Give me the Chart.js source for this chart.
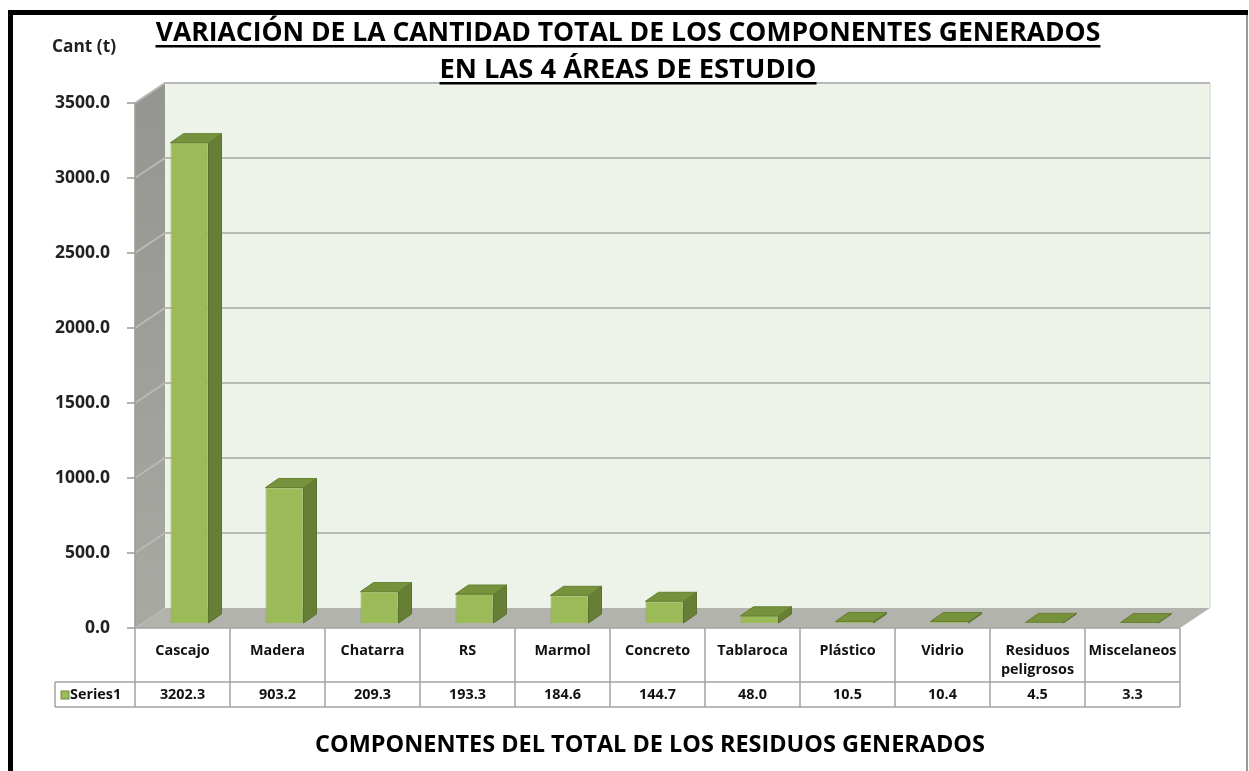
<!DOCTYPE html>
<html>
<head>
<meta charset="utf-8">
<script src="https://cdn.jsdelivr.net/npm/chart.js@4"></script>
<style>
  html, body { margin: 0; padding: 0; background: #fff; }
  #wrap { position: relative; width: 1249px; height: 771px; }
</style>
</head>
<body>
<div id="wrap"><canvas id="myChart" width="1249" height="771"></canvas></div>
<script>
// data
const categories = ['Cascajo', 'Madera', 'Chatarra', 'RS', 'Marmol', 'Concreto', 'Tablaroca',
    'Plástico', 'Vidrio', 'Residuos peligrosos', 'Miscelaneos'];
const series1 = [3202.3, 903.2, 209.3, 193.3, 184.6, 144.7, 48.0, 10.5, 10.4, 4.5, 3.3];
const seriesName = 'Series1';
const yMin = 0, yMax = 3500, yStep = 500;
const titleLines = ['VARIACIÓN DE LA CANTIDAD TOTAL DE LOS COMPONENTES GENERADOS', 'EN LAS 4 ÁREAS DE ESTUDIO'];
const yAxisTitle = 'Cant (t)';
const xAxisTitle = 'COMPONENTES DEL TOTAL DE LOS RESIDUOS GENERADOS';

const FONT = "'Open Sans', 'DejaVu Sans', sans-serif";
const DEPTH_X = 30, DEPTH_Y = -20;     // wall depth
const BAR_SHIFT_X = 7, BAR_SHIFT_Y = -5;
const BAR_DX = 13, BAR_DY = -9;

function poly(ctx, pts, fill, stroke) {
    ctx.beginPath();
    ctx.moveTo(pts[0][0], pts[0][1]);
    for (let i = 1; i < pts.length; i++) ctx.lineTo(pts[i][0], pts[i][1]);
    ctx.closePath();
    if (fill) { ctx.fillStyle = fill; ctx.fill(); }
    if (stroke) { ctx.strokeStyle = stroke; ctx.lineWidth = 1; ctx.stroke(); }
}

// pick a font size so that `text` is about targetWidth wide
function fitText(ctx, text, weight, baseSize, targetWidth) {
    ctx.font = `${weight} ${baseSize}px ${FONT}`;
    const w = ctx.measureText(text).width;
    const size = baseSize * targetWidth / w;
    ctx.font = `${weight} ${size.toFixed(2)}px ${FONT}`;
    return size;
}

const excel3d = {
    id: 'excel3d',
    beforeDraw(chart) {
        const ctx = chart.ctx;
        const { left, right, top, bottom } = chart.chartArea;
        const y = chart.scales.y;
        ctx.save();
        ctx.fillStyle = '#fff';
        ctx.fillRect(0, 0, chart.width, chart.height);

        // frame
        ctx.fillStyle = '#000';
        ctx.fillRect(8, 10, 1240, 5);
        ctx.fillRect(8, 10, 5, 761);
        ctx.fillStyle = '#9a9a9a';
        ctx.fillRect(1246, 15, 2, 756);

        // back wall
        poly(ctx, [[left + DEPTH_X, top + DEPTH_Y], [right + DEPTH_X, top + DEPTH_Y],
            [right + DEPTH_X, bottom + DEPTH_Y], [left + DEPTH_X, bottom + DEPTH_Y]], '#eef3ea');
        ctx.fillStyle = '#e2e6df';
        ctx.fillRect(right + DEPTH_X - 1, top + DEPTH_Y, 2, bottom - top);

        // left wall
        const g = ctx.createLinearGradient(0, top, 0, bottom);
        g.addColorStop(0, '#959591');
        g.addColorStop(1, '#a9a9a4');
        poly(ctx, [[left, top], [left + DEPTH_X, top + DEPTH_Y],
            [left + DEPTH_X, bottom + DEPTH_Y], [left, bottom]], g);

        // gridlines on both walls
        ctx.strokeStyle = '#b9b9b5';
        ctx.lineWidth = 2;
        y.ticks.forEach(t => {
            const py = y.getPixelForValue(t.value);
            if (t.value === yMin) return;
            ctx.beginPath();
            ctx.moveTo(left, py);
            ctx.lineTo(left + DEPTH_X, py + DEPTH_Y);
            ctx.lineTo(right + DEPTH_X, py + DEPTH_Y);
            ctx.stroke();
        });

        // floor
        poly(ctx, [[left, bottom], [left + DEPTH_X, bottom + DEPTH_Y],
            [right + DEPTH_X, bottom + DEPTH_Y], [right, bottom]], '#b3b3ad');
        ctx.restore();
    },
    beforeDatasetsDraw(chart) {
        chart.ctx.save();
        chart.ctx.translate(BAR_SHIFT_X, BAR_SHIFT_Y);
    },
    afterDatasetsDraw(chart) {
        const ctx = chart.ctx;
        chart.getDatasetMeta(0).data.forEach(bar => {
            const { x, y, base, width } = bar.getProps(['x', 'y', 'base', 'width'], true);
            const l = x - width / 2, r = x + width / 2;
            poly(ctx, [[r, y], [r + BAR_DX, y + BAR_DY], [r + BAR_DX, base + BAR_DY], [r, base]], '#677f35', '#5c7230');
            poly(ctx, [[l, y], [r, y], [r + BAR_DX, y + BAR_DY], [l + BAR_DX, y + BAR_DY]], '#76923c', '#66802f');
        });
        ctx.restore();
    },
    afterDraw(chart) {
        const ctx = chart.ctx;
        const { left, right, top, bottom } = chart.chartArea;
        const y = chart.scales.y, x = chart.scales.x;
        ctx.save();

        // y axis line, ticks, labels
        ctx.strokeStyle = '#9a9a9a';
        ctx.lineWidth = 1.5;
        ctx.beginPath();
        ctx.moveTo(left, top);
        ctx.lineTo(left, bottom);
        ctx.stroke();
        ctx.fillStyle = '#222';
        fitText(ctx, '3500.0', 'bold', 14, 55);
        ctx.textAlign = 'right';
        ctx.textBaseline = 'middle';
        y.ticks.forEach(t => {
            const py = y.getPixelForValue(t.value);
            ctx.beginPath();
            ctx.moveTo(left - 8, py);
            ctx.lineTo(left, py);
            ctx.stroke();
            ctx.fillText(t.value.toFixed(1), left - 25, py);
        });

        // data table
        const catW = x.getPixelForValue(1) - x.getPixelForValue(0);
        const row1 = bottom, row2 = bottom + 54, row3 = bottom + 79;
        const tLeft = 55;
        ctx.strokeStyle = '#a3a3a3';
        ctx.lineWidth = 1.5;
        ctx.beginPath();
        ctx.moveTo(left, row1); ctx.lineTo(right, row1);
        ctx.moveTo(tLeft, row2); ctx.lineTo(right, row2);
        ctx.moveTo(tLeft, row3); ctx.lineTo(right, row3);
        ctx.moveTo(tLeft, row2); ctx.lineTo(tLeft, row3);
        for (let i = 0; i <= categories.length; i++) {
            const px = x.getPixelForValue(i) - catW / 2;
            ctx.moveTo(px, row1); ctx.lineTo(px, row3);
        }
        ctx.stroke();

        ctx.fillStyle = '#111';
        fitText(ctx, 'Chatarra', 'bold', 13, 64);
        ctx.textAlign = 'center';
        categories.forEach((c, i) => {
            const px = x.getPixelForValue(i);
            const words = c.split(' ');
            if (ctx.measureText(c).width > catW - 8 && words.length > 1) {
                ctx.fillText(words[0], px, row1 + 23);
                ctx.fillText(words.slice(1).join(' '), px, row1 + 42);
            } else {
                ctx.fillText(c, px, row1 + 23);
            }
            ctx.fillText(series1[i].toFixed(1), px, row2 + 13);
        });
        ctx.fillStyle = '#9bbb59';
        ctx.fillRect(tLeft + 6, row2 + 9, 8, 8);
        ctx.strokeStyle = '#71893f';
        ctx.lineWidth = 1;
        ctx.strokeRect(tLeft + 6, row2 + 9, 8, 8);
        ctx.fillStyle = '#111';
        ctx.textAlign = 'left';
        ctx.fillText(seriesName, tLeft + 15, row2 + 13);

        // titles
        ctx.fillStyle = '#000';
        ctx.textAlign = 'center';
        ctx.textBaseline = 'middle';
        const t1 = [628, 33, 945], t2 = [628, 70, 377];
        [t1, t2].forEach((p, i) => {
            fitText(ctx, titleLines[i], 'bold', 24, p[2]);
            ctx.fillText(titleLines[i], p[0], p[1]);
            ctx.fillRect(p[0] - p[2] / 2, p[1] + 12, p[2], 2.5);
        });
        fitText(ctx, xAxisTitle, 'bold', 20, 670);
        ctx.fillText(xAxisTitle, 650, 745);
        ctx.fillStyle = '#222';
        fitText(ctx, yAxisTitle, 'bold', 13, 64);
        ctx.fillText(yAxisTitle, 84, 47);
        ctx.restore();
    }
};

const ctx = document.getElementById('myChart').getContext('2d');
const myChart = new Chart(ctx, {
    type: 'bar',
    data: {
        labels: categories,
        datasets: [{
            label: seriesName,
            data: series1,
            backgroundColor: '#9bbb59',
            borderColor: '#86a64a',
            borderWidth: 1,
            barPercentage: 0.4,
            categoryPercentage: 1.0
        }]
    },
    options: {
        responsive: false,
        animation: false,
        layout: { padding: { left: 135, right: 69, top: 103, bottom: 143 } },
        plugins: { legend: { display: false }, tooltip: { enabled: false }, title: { display: false } },
        scales: {
            x: { display: false, offset: true },
            y: { display: false, min: yMin, max: yMax, ticks: { stepSize: yStep } }
        }
    },
    plugins: [excel3d]
});
</script>
</body>
</html>
